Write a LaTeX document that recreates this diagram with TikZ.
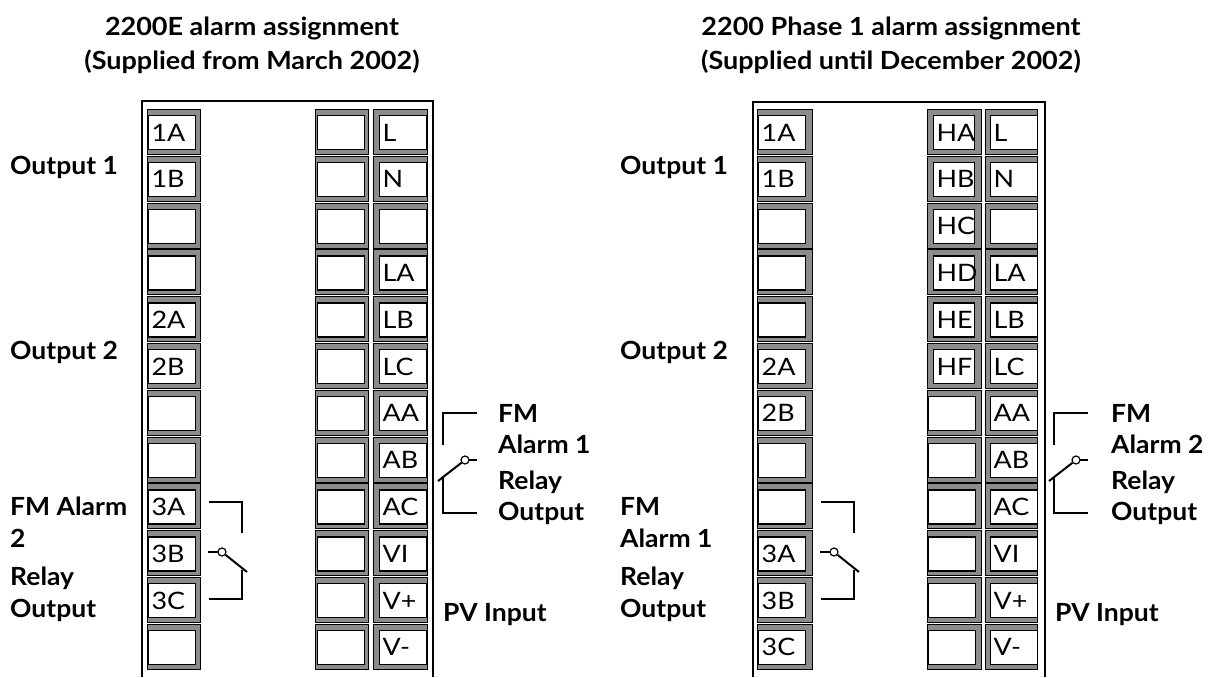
\documentclass[tikz,border=0pt]{standalone}
\usepackage{fontspec}
\setmainfont{Lato}[FakeStretch=1.06]
\newfontfamily\widefont{Lato}[FakeStretch=1.12]
\newfontfamily\headfont{Lato}[FakeStretch=1.08]
\definecolor{boxgray}{HTML}{8C8C8C}
\newcommand\term[7]{%
  \pgfmathsetmacro\ty{109+46.8*#4}%
  \pgfmathsetmacro\tw{#6-6}%
  \node[graybox, minimum width=#3] (#1) at (#2,\ty) {};
  \node[whitebox, text width=\tw pt] (#1w) at (#2+#5,\ty+6) {#7};
}
\begin{document}
\begin{tikzpicture}[x=1pt,y=-1pt,
  graybox/.style={draw=black, line width=0.9pt, fill=boxgray, minimum height=45pt, inner sep=0pt, anchor=north west},
  whitebox/.style={draw=black, line width=1.3pt, fill=white, minimum height=34pt, inner xsep=3pt, inner ysep=0pt, anchor=north west, align=left, text height=17pt, text depth=0pt, font=\widefont\fontsize{24}{24}\selectfont},
  lab/.style={font=\fontsize{25}{30}\selectfont\bfseries, anchor=base west, inner sep=0pt},
  head/.style={font=\headfont\fontsize{25}{30}\selectfont\bfseries, anchor=base, inner sep=0pt},
  frame/.style={line width=1.4pt},
  wire/.style={line width=1.3pt},
  contact/.style={circle, draw=black, line width=1.2pt, fill=white, minimum size=8pt, inner sep=0pt},
  relayA/.pic={
    \draw[wire] (0,0) -- (33,0) -- (33,31);
    \draw[wire] (-1,50) -- (9,50);
    \node[contact] (-c) at (13,50) {};
    \draw[wire, line width=2pt] (-c) -- (38,70);
    \draw[wire] (33,68) -- (33,97) -- (0,97);
  },
  relayB/.pic={
    \draw[wire] (0,0) -- (-34,0) -- (-34,32);
    \draw[wire] (0,47) -- (-8,47);
    \node[contact] (-c) at (-12,47) {};
    \draw[wire, line width=2pt] (-c) -- (-39,68);
    \draw[wire] (-34,65) -- (-34,100) -- (0,100);
  }
]
\useasboundingbox (0,0) rectangle (1209,677);

% ---------- headings ----------
\node[head] (hA1) at (252,36) {2200E alarm assignment};
\node[head] (hA2) at (252,70) {(Supplied from March 2002)};
\node[head] (hB1) at (891,36) {2200 Phase 1 alarm assignment};
\node[head] (hB2) at (891,70) {(Supplied until December 2002)};

% ---------- frames ----------
\draw[frame] (142,677) -- (142,101) -- (433,101) -- (433,677);
\draw[frame] (753,677) -- (753,102) -- (1045,102) -- (1045,677);

% ---------- left panel terminals ----------
\foreach \l [count=\i from 0] in {1A,1B,{},{},2A,2B,{},{},3A,3B,3C,{}}
  {\term{La\i}{147}{53}{\i}{1}{47}{\l}}
\foreach \i in {0,...,11}
  {\term{Lb\i}{315}{53}{\i}{2}{47}{}}
\foreach \l [count=\i from 0] in {L,N,{},LA,LB,LC,AA,AB,AC,VI,V+,V-}
  {\term{Lc\i}{373}{54}{\i}{6}{47}{\l}}

% ---------- right panel terminals ----------
\foreach \l [count=\i from 0] in {1A,1B,{},{},{},2A,2B,{},{},3A,3B,3C}
  {\term{Ra\i}{757}{55}{\i}{1}{47}{\l}}
\foreach \l [count=\i from 0] in {HA,HB,HC,HD,HE,HF}
  {\term{Rb\i}{927}{54}{\i}{6}{41}{\l}}
\foreach \i in {6,...,11}
  {\term{Rb\i}{927}{54}{\i}{1}{47}{}}
\foreach \l [count=\i from 0] in {L,N,{},LA,LB,LC,AA,AB,AC,VI,V+,V-}
  {\term{Rc\i}{985}{52}{\i}{5}{47}{\l}}

% ---------- relays ----------
\pic (rA1) at (209,502) {relayA};
\pic (rA2) at (821,502) {relayA};
\pic (rB1) at (477,413) {relayB};
\pic (rB2) at (1088,413) {relayB};

% ---------- left panel labels ----------
\node[lab] (lo1) at (10,174) {Output 1};
\node[lab] (lo2) at (10,359) {Output 2};
\node[lab] (lf1) at (10,515) {FM Alarm};
\node[lab] (lf2) at (10,547) {2};
\node[lab] (lf3) at (10,585) {Relay};
\node[lab] (lf4) at (10,617) {Output};
\node[lab] (lg1) at (498,422) {FM};
\node[lab] (lg2) at (498,453) {Alarm 1};
\node[lab] (lg3) at (498,489) {Relay};
\node[lab] (lg4) at (498,520) {Output};
\node[lab] (lpv) at (443,621) {PV Input};

% ---------- right panel labels ----------
\node[lab] (ro1) at (620,174) {Output 1};
\node[lab] (ro2) at (620,359) {Output 2};
\node[lab] (rf1) at (620,515) {FM};
\node[lab] (rf2) at (620,547) {Alarm 1};
\node[lab] (rf3) at (620,585) {Relay};
\node[lab] (rf4) at (620,617) {Output};
\node[lab] (rg1) at (1111,422) {FM};
\node[lab] (rg2) at (1111,453) {Alarm 2};
\node[lab] (rg3) at (1111,489) {Relay};
\node[lab] (rg4) at (1111,520) {Output};
\node[lab] (rpv) at (1055,621) {PV Input};
\end{tikzpicture}
\end{document}
